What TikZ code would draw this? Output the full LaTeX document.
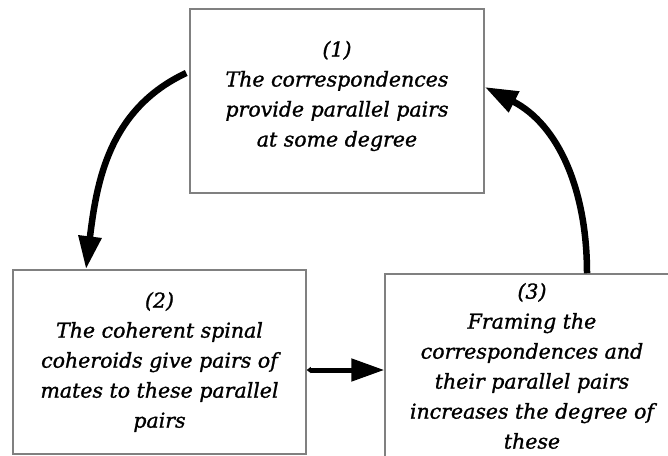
\documentclass[tikz,border=0pt]{standalone}
\usepackage{fontspec}
\setmainfont{DejaVu Serif}[FakeBold=1.2]
\usetikzlibrary{arrows.meta}
\definecolor{boxgray}{HTML}{808080}

\begin{document}
\begin{tikzpicture}[x=1pt, y=1pt,
    stepbox/.style={draw=boxgray, line width=1.5pt, minimum width=294pt,
          minimum height=184pt},
    steptext/.style={align=center, font=\fontsize{20.5}{30}\selectfont\itshape},
    bigarrow/.style={line width=6.5pt, -{Triangle[length=33pt, width=22pt]}}]
    \useasboundingbox (0,0) rectangle (668,455);

    % Step (1)
    \node[stepbox] (corr) at (337,354) {};
    \node[steptext] at ([yshift=5pt]corr.center) {(1)\\
        The correspondences\\
        provide parallel pairs\\
        at some degree};

    % Step (2)
    \node[stepbox, minimum width=293pt] (spinal) at (159.5,93) {};
    \node[steptext] at (spinal.center) {(2)\\
        The coherent spinal\\
        coheroids give pairs of\\
        mates to these parallel\\
        pairs};

    % Step (3)
    \node[stepbox] (framing) at (532,89) {};
    \node[steptext] at (framing.center) {(3)\\
        Framing the\\
        correspondences and\\
        their parallel pairs\\
        increases the degree of\\
        these};

    % Arrows
    \coordinate (c1) at ([xshift=-3pt, yshift=28pt]corr.west);
    \coordinate (c2) at ([xshift=-73.5pt]spinal.north);
    \draw[bigarrow] (c1) to[out=205, in=83] (c2);

    \coordinate (m1) at ([yshift=-8pt]spinal.east);
    \coordinate (m2) at (framing.west |- m1);
    \draw[line width=5pt, {Triangle[length=4pt, width=6pt]}-{Triangle[length=33pt, width=22pt]}]
        (m1) -- (m2);

    \coordinate (c3) at ([xshift=55pt]framing.north);
    \coordinate (c4) at ([yshift=14pt]corr.east);
    \draw[bigarrow] (c3) to[out=90, in=333] (c4);
\end{tikzpicture}
\end{document}
